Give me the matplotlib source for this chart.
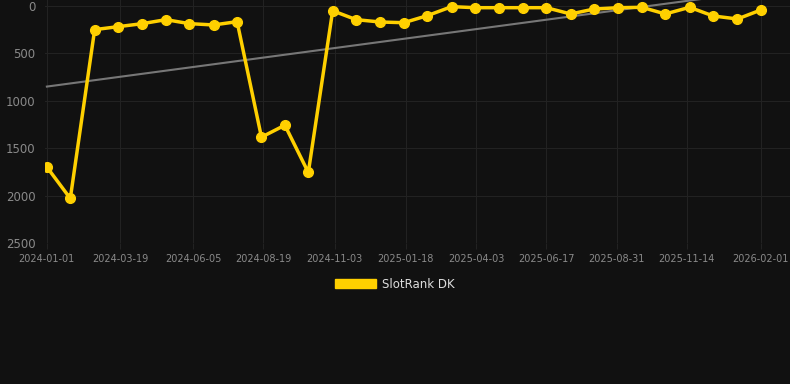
import matplotlib
matplotlib.use("Agg")
import matplotlib.pyplot as plt
import matplotlib.dates as mdates
import numpy as np
import pandas as pd
from matplotlib.patches import Patch

dates = ["2024-01-01", "2024-01-26", "2024-02-21", "2024-03-17", "2024-04-12",
         "2024-05-07", "2024-06-01", "2024-06-27", "2024-07-22", "2024-08-17",
         "2024-09-11", "2024-10-06", "2024-11-01", "2024-11-26", "2024-12-22",
         "2025-01-16", "2025-02-10", "2025-03-08", "2025-04-02", "2025-04-28",
         "2025-05-23", "2025-06-17", "2025-07-13", "2025-08-07", "2025-09-02",
         "2025-09-27", "2025-10-22", "2025-11-17", "2025-12-12", "2026-01-07",
         "2026-02-01"]
ranks = [1700, 2031, 252, 221, 189, 147, 189, 203, 168, 1385,
         1259, 1757, 53, 147, 172, 179, 105, 10, 21, 21,
         21, 21, 87, 35, 21, 17, 87, 17, 108, 140,
         45]
tick_labels = ["2024-01-01", "2024-03-19", "2024-06-05", "2024-08-19", "2024-11-03",
               "2025-01-18", "2025-04-03", "2025-06-17", "2025-08-31", "2025-11-14",
               "2026-02-01"]
y_ticks = [0, 500, 1000, 1500, 2000, 2500]
series_name = "SlotRank DK"

bg = "#111111"
gold = "#FFD000"
grid_c = "#222222"
tick_c = "#8a8a8a"

x = pd.to_datetime(dates)
xn = mdates.date2num(x)

fig = plt.figure(figsize=(7.9, 3.84), dpi=100, facecolor=bg)
ax = fig.add_axes([45/790, 1 - 243/384, 745/790, 243/384])
ax.set_facecolor(bg)

# trend line (linear regression)
coef = np.polyfit(xn, ranks, 1)
ax.plot(xn[[0, -1]], np.polyval(coef, xn[[0, -1]]), color="#777777", lw=1.5, zorder=2)

ax.plot(xn, ranks, color=gold, lw=2.5, marker="o", ms=7, mfc=gold, mec=gold, zorder=3)

tk = mdates.date2num(pd.to_datetime(tick_labels))
ax.set_xticks(tk)
ax.set_xticklabels(tick_labels)
ax.set_yticks(y_ticks)
ax.set_yticklabels([str(v) for v in y_ticks])
ax.set_xlim(xn[0] - 2, xn[0] + (790 - 45) * (xn[-1] - xn[0]) / (761 - 47) - 2)
ax.set_ylim(2500, -60)

ax.grid(True, color=grid_c, lw=0.8)
ax.set_axisbelow(True)
for s in ax.spines.values():
    s.set_visible(False)
ax.tick_params(axis="x", colors=tick_c, labelsize=7, length=4, color=grid_c, pad=4)
ax.tick_params(axis="y", colors=tick_c, labelsize=8.5, length=0, pad=7)

leg = fig.legend(handles=[Patch(facecolor=gold, edgecolor=gold, label=series_name)],
                 loc="center", bbox_to_anchor=(0.5, 1 - 284/384), frameon=False,
                 fontsize=8.5, handlelength=3.4, handleheight=0.85, handletextpad=0.55)
for t in leg.get_texts():
    t.set_color("#dddddd")

fig.savefig("out.png", dpi=100, facecolor=bg)
